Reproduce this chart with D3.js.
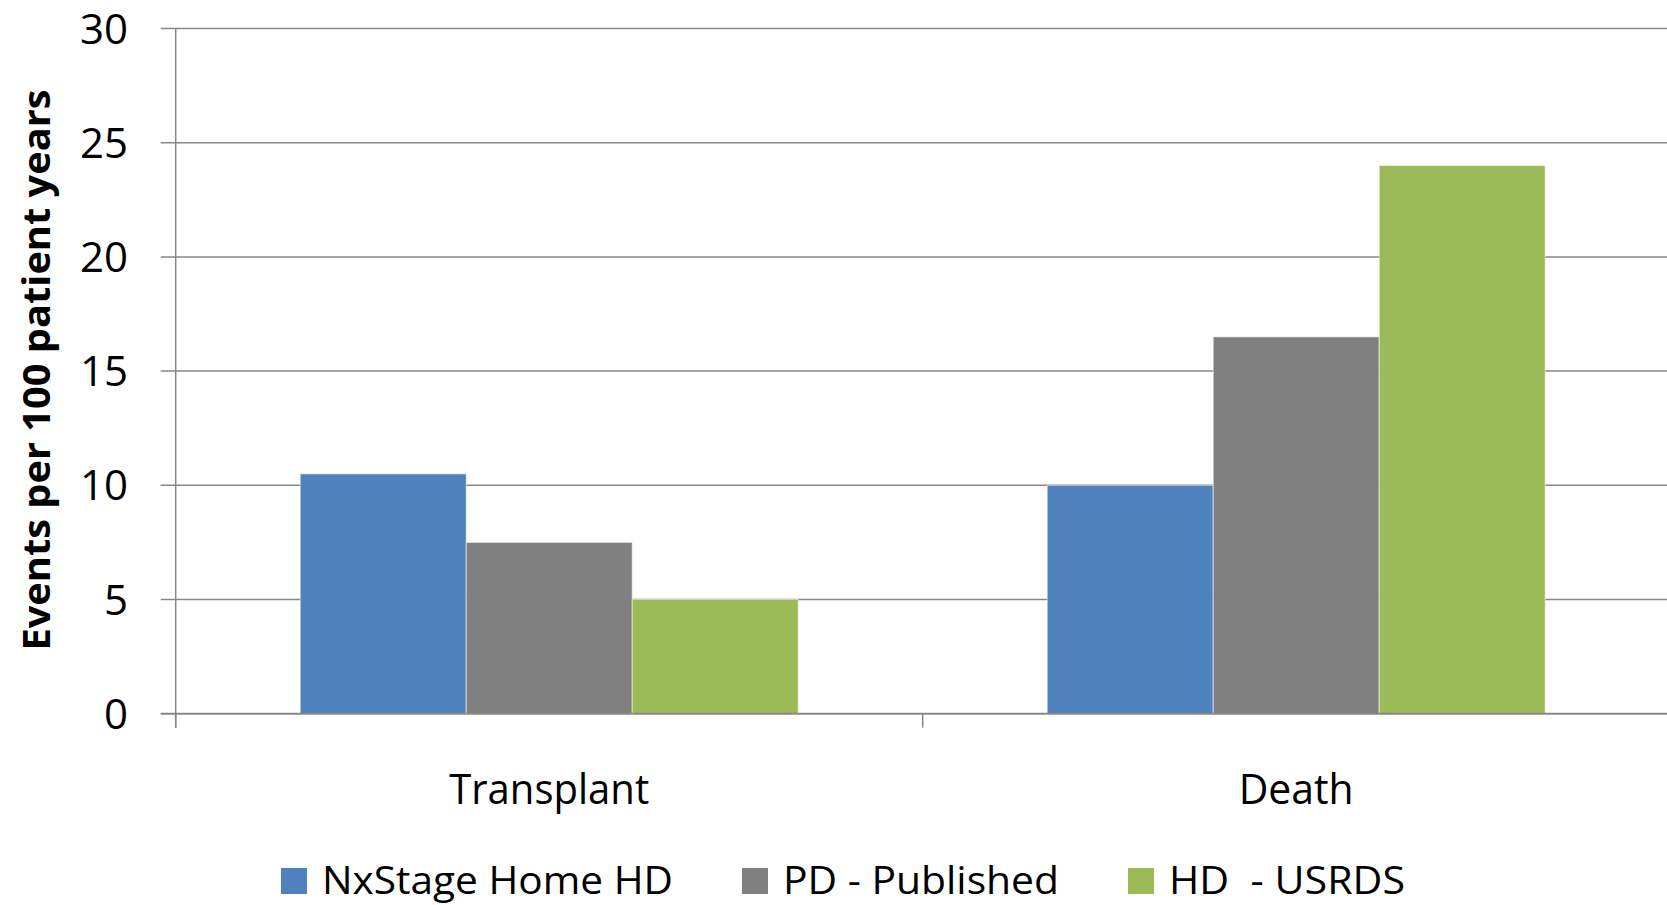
<!DOCTYPE html>
<html>
<head>
<meta charset="utf-8">
<script src="https://cdn.jsdelivr.net/npm/d3@7"></script>
<style>
  html, body { margin: 0; padding: 0; background: #fff; }
  svg { display: block; }
  text { font-family: "Open Sans", "Noto Sans", sans-serif; fill: #000; }
</style>
</head>
<body>
<svg id="chart" width="1667" height="905"></svg>
<script>
// ---- data ----
const categories = ["Transplant", "Death"];
const seriesNames = ["NxStage Home HD", "PD - Published", "HD  - USRDS"];
const nxstage = [10.5, 10];
const pdPublished = [7.5, 16.5];
const hdUsrds = [5, 24];
const yTicks = [0, 5, 10, 15, 20, 25, 30];
const colors = ["#4F81BD", "#808080", "#9BBB59"];
const seriesValues = [nxstage, pdPublished, hdUsrds];

// ---- layout ----
const W = 1667, H = 905;
const plot = { left: 175.7, right: 1669.7, top: 28.5, bottom: 713.7 };
const svg = d3.select("#chart");

const y = d3.scaleLinear().domain([0, 30]).range([plot.bottom, plot.top]);
const x0 = d3.scaleBand().domain(categories).range([plot.left, plot.right]).paddingInner(0).paddingOuter(0);
const x1 = d3.scaleBand().domain(seriesNames).range([0, x0.bandwidth()]).paddingInner(0).paddingOuter(0.75);

const gridColor = "#878787";

// gridlines + y ticks
svg.append("g").selectAll("line").data(yTicks).join("line")
  .attr("x1", plot.left - 15).attr("x2", W)
  .attr("y1", d => y(d)).attr("y2", d => y(d))
  .attr("stroke", gridColor).attr("stroke-width", 1.5);

// y tick labels
svg.append("g").selectAll("text").data(yTicks).join("text")
  .attr("x", 128).attr("y", d => y(d))
  .attr("text-anchor", "end").attr("dy", "0.36em")
  .attr("font-size", 42)
  .text(d => d);

// bars
const rows = categories.map((c, i) => ({ cat: c, vals: seriesNames.map((s, j) => ({ s, j, v: seriesValues[j][i] })) }));
svg.append("g").selectAll("g").data(rows).join("g")
  .attr("transform", d => `translate(${x0(d.cat)},0)`)
  .selectAll("rect").data(d => d.vals).join("rect")
  .attr("x", d => x1(d.s)).attr("width", x1.bandwidth())
  .attr("y", d => y(d.v)).attr("height", d => y(0) - y(d.v))
  .attr("fill", d => colors[d.j])
  .attr("stroke", "rgba(255,255,255,0.55)").attr("stroke-width", 1);

// y axis line
svg.append("line")
  .attr("x1", plot.left).attr("x2", plot.left)
  .attr("y1", plot.top).attr("y2", plot.bottom + 14)
  .attr("stroke", gridColor).attr("stroke-width", 1.5);
// x axis line
svg.append("line")
  .attr("x1", plot.left - 15).attr("x2", W)
  .attr("y1", plot.bottom).attr("y2", plot.bottom)
  .attr("stroke", gridColor).attr("stroke-width", 1.8);
// x category tick marks (band boundaries)
const bounds = categories.map(c => x0(c)).concat([x0(categories[categories.length - 1]) + x0.bandwidth()]);
svg.append("g").selectAll("line").data(bounds).join("line")
  .attr("x1", d => d).attr("x2", d => d)
  .attr("y1", plot.bottom).attr("y2", plot.bottom + 14)
  .attr("stroke", gridColor).attr("stroke-width", 1.5);

// category labels
const catWidths = { "Transplant": 200, "Death": 115 };
svg.append("g").selectAll("text").data(categories).join("text")
  .attr("x", d => x0(d) + x0.bandwidth() / 2)
  .attr("y", 803.5)
  .attr("text-anchor", "middle")
  .attr("font-size", 42)
  .attr("textLength", d => catWidths[d])
  .attr("lengthAdjust", "spacingAndGlyphs")
  .text(d => d);

// y axis title
svg.append("text")
  .attr("transform", "translate(50,370) rotate(-90)")
  .attr("text-anchor", "middle")
  .attr("font-size", 37)
  .attr("font-weight", "bold")
  .attr("textLength", 561)
  .attr("lengthAdjust", "spacingAndGlyphs")
  .text("Events per 100 patient years");

// legend
const legendTextWidths = [351, 276, 236];
const sq = 26, textGap = 15, itemGap = 69;
let lx = 281;
const legend = svg.append("g");
seriesNames.forEach((name, i) => {
  legend.append("rect").attr("x", lx).attr("y", 868).attr("width", sq).attr("height", sq).attr("fill", colors[i]);
  legend.append("text")
    .attr("x", lx + sq + textGap).attr("y", 893.5)
    .attr("font-size", 38)
    .attr("textLength", legendTextWidths[i])
    .attr("lengthAdjust", "spacingAndGlyphs")
    .style("white-space", "pre")
    .text(name);
  lx += sq + textGap + legendTextWidths[i] + itemGap;
});
</script>
</body>
</html>
